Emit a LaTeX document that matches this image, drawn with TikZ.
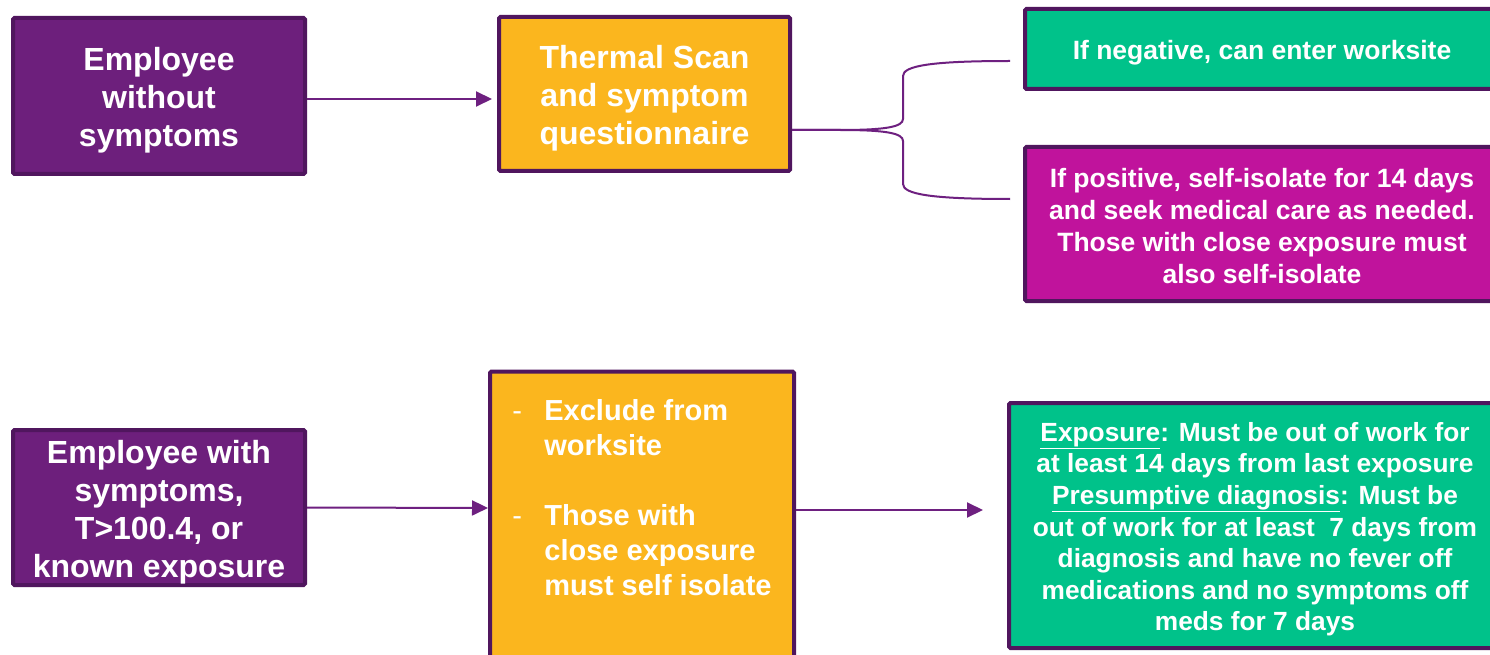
\documentclass[tikz,border=0pt]{standalone}
\usepackage{fontspec}
\setmainfont{Liberation Sans}
\usetikzlibrary{arrows.meta}
\definecolor{pfill}{HTML}{6D1F7C}
\definecolor{pborder}{HTML}{50165E}
\definecolor{ofill}{HTML}{FBB61E}
\definecolor{gfill}{HTML}{00C28A}
\definecolor{mfill}{HTML}{C0139C}
\definecolor{lcol}{HTML}{6E2080}
\newcommand\topgap[1]{\rule{0pt}{#1}}
\begin{document}
\begin{tikzpicture}[x=1pt,y=-1pt,
  box/.style={draw=pborder, line width=4pt, rounded corners=1.5pt, text=white, align=center, inner sep=0pt},
  bigtxt/.style={font=\bfseries\fontsize{32}{38}\selectfont},
  midtxt/.style={font=\bfseries\fontsize{26.5}{32}\selectfont},
  arr/.style={draw=lcol, line width=2pt, -{Triangle[length=16pt,width=15pt]}},
  bracepath/.style={draw=lcol, line width=2pt}]
\clip (0,0) rectangle (1490,655);
\fill[white] (0,0) rectangle (1490,655);

\node[box, bigtxt, fill=pfill, minimum width=292pt, minimum height=156pt] (b1) at (159,96)
  {\topgap{31.5pt}Employee\\without\\symptoms};
\node[box, bigtxt, fill=ofill, minimum width=291pt, minimum height=154pt] (b2) at (644.5,94)
  {\topgap{32.5pt}Thermal Scan\\and symptom\\questionnaire};
\node[box, midtxt, fill=gfill, minimum width=474pt, minimum height=80pt] (g1) at (1262,49)
  {\topgap{27.3pt}If negative, can enter worksite};
\node[box, midtxt, fill=mfill, minimum width=474pt, minimum height=154pt] (m1) at (1262,224)
  {\topgap{22.3pt}If positive, self-isolate for 14 days\\and seek medical care as needed.\\Those with close exposure must\\also self-isolate};
\node[box, bigtxt, fill=pfill, minimum width=292pt, minimum height=155pt] (b3) at (159,507.5)
  {\topgap{33.5pt}Employee with\\symptoms,\\T>100.4, or\\known exposure};
\node[box, fill=ofill, minimum width=304pt, minimum height=291pt, font=\bfseries\fontsize{29}{35}\selectfont] (b4) at (642,517)
  {\raisebox{0pt}[\height][\dimexpr\depth+32pt]{\begin{tabular}{@{}p{32pt}@{}l@{}}
  \mdseries- & Exclude from\\
   & worksite\\
   & \\
  \mdseries- & Those with\\
   & close exposure\\
   & must self isolate
  \end{tabular}}};
\node[box, fill=gfill, minimum width=492pt, minimum height=245pt, font=\bfseries\fontsize{26.3}{31.6}\selectfont] (b5) at (1255,525.5)
  {\topgap{26.8pt}\underline{Exposure}: Must be out of work for\\at least 14 days from last exposure\\\underline{Presumptive diagnosis}: Must be\\out of work for at least \ 7 days from\\diagnosis and have no fever off\\medications and no symptoms off\\meds for 7 days};

% arrows
\draw[arr] ([yshift=-3pt]b1.east) -- ([yshift=-5pt,xshift=-5pt]b2.west);
\draw[arr] (b3.east) -- ([yshift=9pt]b4.west);
\coordinate (a4end) at ([xshift=-24pt,yshift=15.5pt]b5.west);
\draw[arr] ([yshift=7pt]b4.east) -- (a4end);

% brace
\coordinate (bt) at ([xshift=-13pt,yshift=-12pt]g1.west);
\coordinate (bb) at ([xshift=-13pt,yshift=25pt]m1.west);
\coordinate (bs) at ([yshift=-36pt]b2.east);
\draw[bracepath] (bs) -- (840,130) .. controls (885,130) and (903,127) .. (903,119)
  -- (903,76) .. controls (903,66) and (930,61) .. (bt);
\draw[bracepath] (bs) -- (840,130) .. controls (885,130) and (903,133) .. (903,141)
  -- (903,184) .. controls (903,194) and (930,199) .. (bb);
\end{tikzpicture}
\end{document}
